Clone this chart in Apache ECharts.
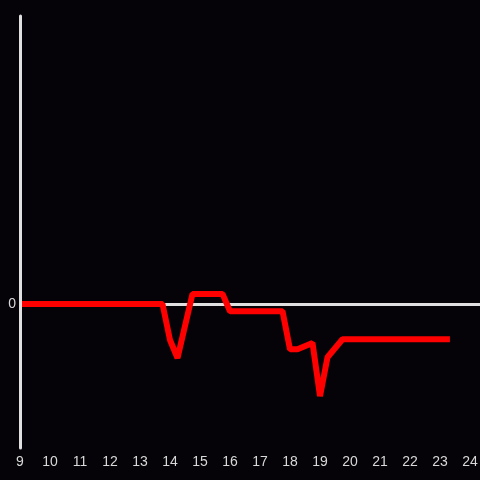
<!DOCTYPE html>
<html><head><meta charset="utf-8">
<script src="https://cdn.jsdelivr.net/npm/echarts@6/dist/echarts.min.js"></script>
<style>html,body{margin:0;padding:0;background:#050307;overflow:hidden;}#c{width:480px;height:480px;}</style>
</head><body><div id="c"></div>
<script>
var hours = [9, 13.75, 14, 14.25, 14.75, 15.75, 16, 17.75, 18, 18.25, 18.75, 19, 19.25, 19.75, 23.33];
var values = [0, 0, -0.5, -0.75, 0.14, 0.14, -0.1, -0.1, -0.63, -0.63, -0.54, -1.28, -0.74, -0.49, -0.49];
var yTickLabels = ['0'];

var chart = echarts.init(document.getElementById('c'), null, {width: 480, height: 480});
chart.setOption({
  backgroundColor: '#050307',
  animation: false,
  grid: {left: 20, right: 0, top: 16, bottom: 32, containLabel: false, outerBoundsMode: 'none'},
  xAxis: {
    type: 'value', min: 9, max: 24.333, interval: 1,
    axisLine: {show: false, onZero: false},
    axisTick: {show: false},
    splitLine: {show: false},
    axisLabel: {
      color: '#d8d8d8', fontSize: 14, margin: 7, fontFamily: 'Liberation Sans',
      formatter: function (v) { return Number.isInteger(v) ? String(v) : ''; }
    }
  },
  yAxis: {
    type: 'value', min: -2, max: 4, interval: 2, z: 4,
    axisLine: {show: true, lineStyle: {color: '#e0e0e0', width: 3}},
    axisTick: {show: false},
    splitLine: {show: false},
    axisLabel: {
      color: '#d8d8d8', fontSize: 14, margin: 4, fontFamily: 'Liberation Sans',
      formatter: function (v) { return yTickLabels.indexOf(String(v)) >= 0 ? String(v) : ''; }
    }
  },
  series: [
    {
      type: 'line', data: [], z: 1, silent: true,
      markLine: {
        z: 1,
        symbol: 'none', silent: true, animation: false,
        label: {show: false},
        lineStyle: {color: '#e0e0e0', width: 3, type: 'solid'},
        data: [{yAxis: 0}]
      }
    },
    {
      type: 'line', z: 3,
      data: hours.map(function (h, i) { return [h, values[i]]; }),
      showSymbol: false,
      lineStyle: {color: '#ff0000', width: 6},
      itemStyle: {color: '#ff0000'}
    }
  ]
});
</script></body></html>
